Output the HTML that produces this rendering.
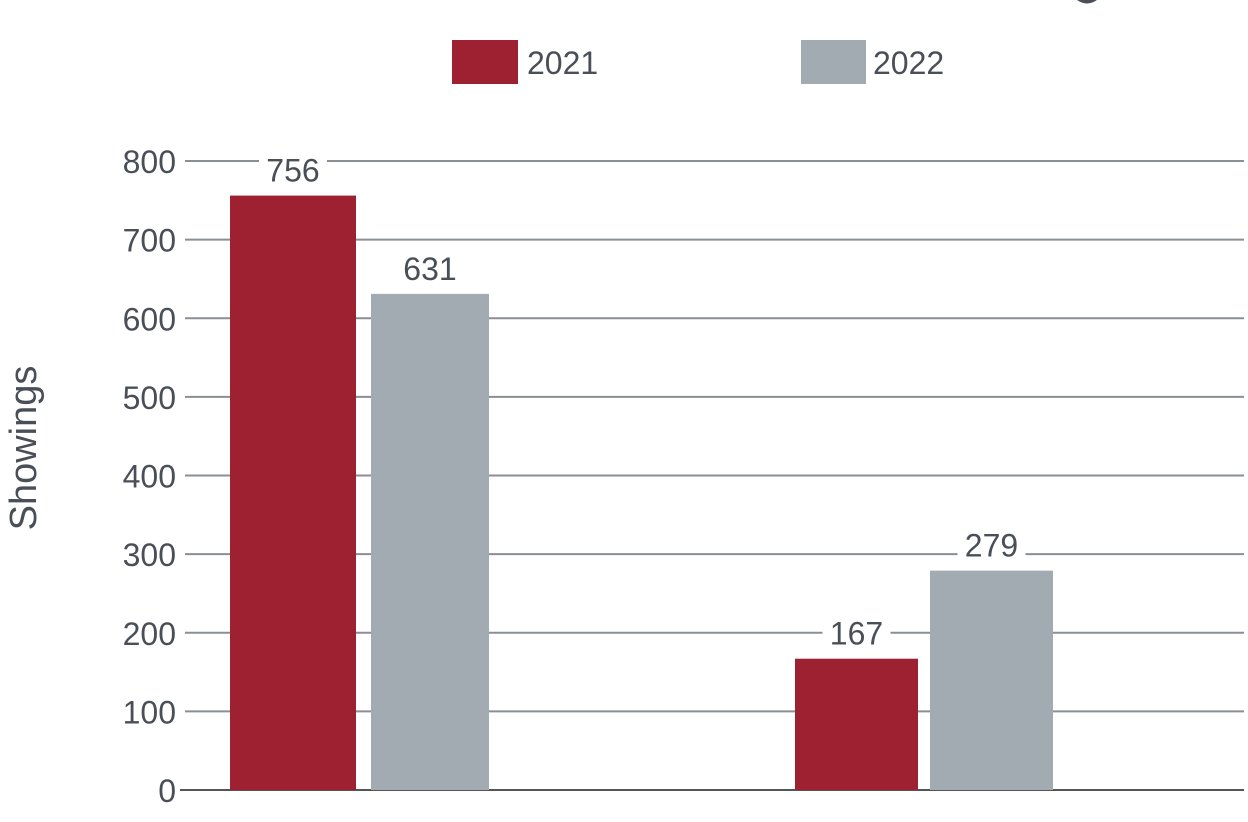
<!DOCTYPE html>
<html><head><meta charset="utf-8"><style>
html,body{margin:0;padding:0;background:#fff;}
svg{display:block;font-family:"Liberation Sans",sans-serif;}
</style></head><body>
<svg id="chart" width="1248" height="822">
<path d="M1077 0 Q1087 7 1097 0 Z" fill="#4a4f57"/>
<g>
<rect x="452" y="40" width="66" height="44" fill="#9e2132"/>
<text x="527" y="74" font-size="32" fill="#4a4f57">2021</text>
<rect x="801" y="40" width="65" height="44" fill="#a2abb1"/>
<text x="873" y="74" font-size="32" fill="#4a4f57">2022</text>
</g>
<text transform="translate(36,448) rotate(-90)" text-anchor="middle" font-size="38" fill="#4a4f57">Showings</text>
<g id="grid"></g><g id="bars"></g>
</svg>
<script>
const categories = ["Group A", "Group B"];
const series2021 = [756, 167];
const series2022 = [631, 279];
const tickValues = [0,100,200,300,400,500,600,700,800];
const tickLabels = ["0","100","200","300","400","500","600","700","800"];
const NS="http://www.w3.org/2000/svg";
function y(v){return 790 - v*(790-161)/800;}
const grid=document.getElementById('grid'), bars=document.getElementById('bars');
tickValues.forEach((v,i)=>{
  const l=document.createElementNS(NS,'line');
  
  
  l.setAttribute('x1', v===0?180:185); l.setAttribute('x2',1244);
  l.setAttribute('y1',y(v)); l.setAttribute('y2',y(v));
  l.setAttribute('stroke', v===0?'#555':'#8a8f95'); l.setAttribute('stroke-width',2);
  grid.appendChild(l);
  const t=document.createElementNS(NS,'text');
  
  
  t.setAttribute('x',176); t.setAttribute('y',y(v)+12);
  t.setAttribute('text-anchor','end'); t.setAttribute('font-size',32); t.setAttribute('fill','#4a4f57');
  t.textContent=tickLabels[i]; grid.appendChild(t);
});
const groupX=[230,795], barW=[126,123], gap=[141,135], bw2=[118,123];
categories.forEach((c,i)=>{
  [[series2021[i],'#9e2132',groupX[i],barW[i],'2021'],[series2022[i],'#a2abb1',groupX[i]+gap[i],bw2[i],'2022']].forEach(([v,col,x,w,s])=>{
    const bg=document.createElementNS(NS,'rect');
    
    
    bg.setAttribute('x',x+w/2-34); bg.setAttribute('y',y(v)-44); bg.setAttribute('width',68); bg.setAttribute('height',36); bg.setAttribute('fill','#fff');
    bars.appendChild(bg);
    const r=document.createElementNS(NS,'rect');
    
    
    r.setAttribute('x',x); r.setAttribute('y',y(v)); r.setAttribute('width',w); r.setAttribute('height',790-y(v)); r.setAttribute('fill',col);
    bars.appendChild(r);
    const t=document.createElementNS(NS,'text');
    
    
    t.setAttribute('x',x+w/2); t.setAttribute('y',y(v)-14); t.setAttribute('text-anchor','middle'); t.setAttribute('font-size',32); t.setAttribute('fill','#4a4f57');
    t.textContent=v; bars.appendChild(t);
  });
});
</script>
</body></html>
